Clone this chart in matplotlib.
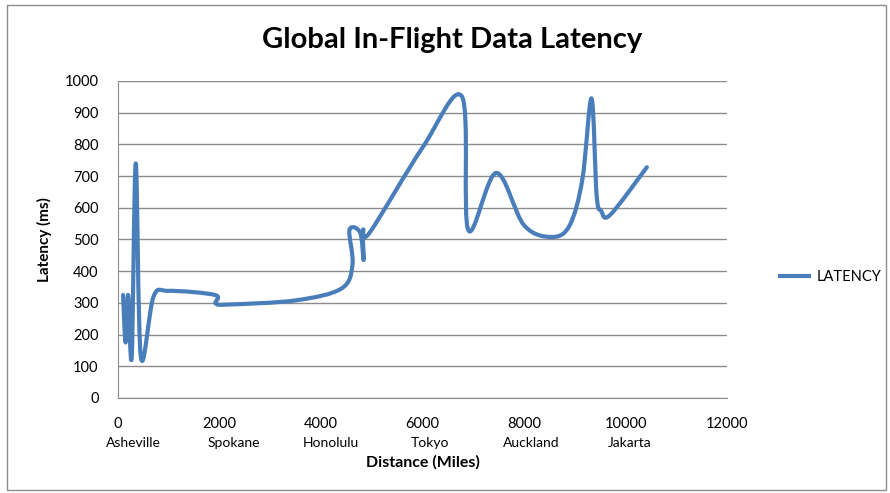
import numpy as np
import matplotlib.pyplot as plt
from matplotlib.path import Path
from matplotlib.patches import PathPatch, Rectangle
from matplotlib.lines import Line2D

plt.rcParams['font.family'] = ['Lato', 'DejaVu Sans']

# ---------------------------------------------------------
# Data (miles, ms)
# ---------------------------------------------------------
distance = [100, 150, 200, 270, 350, 450, 700, 1000, 1910, 1925, 2200, 3500,
            4400, 4620, 4560, 4770, 4840, 4830, 4960, 6000, 6780, 6900, 7450,
            8000, 8550, 8900, 9150, 9330, 9430, 9520, 9700, 10420]
latency = [325, 175, 325, 130, 740, 130, 320, 338, 325, 298, 295, 308,
           345, 420, 530, 522, 435, 530, 522, 790, 950, 530, 710,
           545, 508, 545, 690, 945, 640, 590, 578, 728]

x_ticks = [0, 2000, 4000, 6000, 8000, 10000, 12000]
cities = ['Asheville', 'Spokane', 'Honolulu', 'Tokyo', 'Auckland', 'Jakarta']
city_shift = [300, 280, 200, 140, 140, 90]   # labels sit a little right of the numbers
y_ticks = list(range(0, 1001, 100))

line_color = '#4A7EBB'


def smooth_path(xs, ys, k=1/6):
    # Excel style smoothed scatter line: cubic bezier through every point
    pts = np.column_stack([xs, ys]).astype(float)
    n = len(pts)
    verts = [pts[0]]
    codes = [Path.MOVETO]
    for i in range(n - 1):
        p0 = pts[i - 1] if i > 0 else pts[i]
        p1 = pts[i]
        p2 = pts[i + 1]
        p3 = pts[i + 2] if i + 2 < n else pts[i + 1]
        c1 = p1 + (p2 - p0) * k
        c2 = p2 - (p3 - p1) * k
        verts += [c1, c2, p2]
        codes += [Path.CURVE4] * 3
    return Path(verts, codes)


fig = plt.figure(figsize=(8.9, 4.93), dpi=100)
ax = fig.add_axes([0.1326, 0.1927, 0.6843, 0.643])

# chart area border
fig.patches.append(Rectangle((0.008, 0.006), 0.987, 0.984, transform=fig.transFigure,
                             fill=False, edgecolor='#8c8c8c', lw=1))

patch = PathPatch(smooth_path(distance, latency), facecolor='none',
                  edgecolor=line_color, lw=3, capstyle='round', joinstyle='round')
ax.add_patch(patch)

ax.set_xlim(0, 12000)
ax.set_ylim(0, 1000)
ax.set_xticks(x_ticks)
ax.set_xticklabels([str(t) for t in x_ticks], fontsize=10.5)
ax.set_yticks(y_ticks)
ax.set_yticklabels([str(t) for t in y_ticks], fontsize=10.5)
ax.tick_params(axis='both', length=0)
ax.tick_params(axis='x', pad=14)
ax.tick_params(axis='y', pad=14)

# city names under the distance numbers
trans = ax.get_xaxis_transform()
for t, c, dx in zip(x_ticks, cities, city_shift):
    ax.text(t + dx, -0.122, c, transform=trans, ha='center', va='top', fontsize=10)

ax.grid(axis='y', color='#8c8c8c', lw=1)
ax.set_axisbelow(True)
for s in ['top', 'right']:
    ax.spines[s].set_visible(False)
for s in ['left', 'bottom']:
    ax.spines[s].set_color('#8c8c8c')

ax.set_xlabel('Distance (Miles)', fontsize=11.5, fontweight='bold', labelpad=17)
ax.set_ylabel('Latency (ms)', fontsize=11, fontweight='bold', labelpad=9)
fig.text(0.508, 0.918, 'Global In-Flight Data Latency', ha='center', va='center',
         fontsize=21, fontweight='bold')

handle = Line2D([], [], color=line_color, lw=3)
fig.legend([handle], ['LATENCY'], loc='center left', bbox_to_anchor=(0.862, 0.438),
           frameon=False, fontsize=10.5, handlelength=2.0, handletextpad=0.5)

fig.savefig('out.png', dpi=100)
